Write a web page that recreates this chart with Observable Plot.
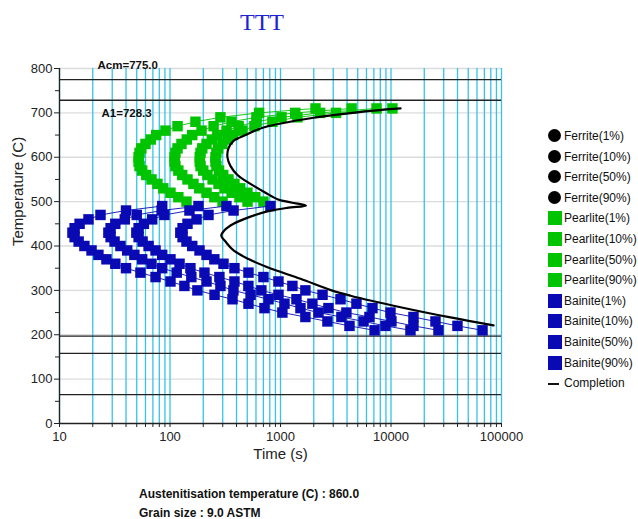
<!DOCTYPE html>
<html>
<head>
<meta charset="utf-8">
<script src="https://cdn.jsdelivr.net/npm/d3@7"></script>
<script src="https://cdn.jsdelivr.net/npm/@observablehq/plot@0.6"></script>
<style>
  body { margin: 0; background: #fff; }
  #wrap { position: relative; width: 638px; height: 519px; overflow: hidden; background: #fff; font-family: "Liberation Sans", Arial, sans-serif; }
  #wrap svg { position: absolute; left: 0; top: 0; }
  #title { position: absolute; left: 212px; width: 100px; top: 9px; text-align: center; font: 24px/26px "Liberation Serif", "Times New Roman", serif; color: #1c22d6; }
  #caption { position: absolute; left: 139px; top: 485px; font: bold 12px/19px "Liberation Sans", Arial, sans-serif; color: #111; white-space: nowrap; }
  .lg { position: absolute; left: 547px; height: 20px; white-space: nowrap; font: 12px/20px "Liberation Sans", Arial, sans-serif; color: #111; }
  .lg .sym { position: absolute; left: 1px; top: 3px; width: 14px; height: 14px; }
  .lg .txt { position: absolute; left: 17px; top: 0; }
</style>
</head>
<body>
<div id="wrap">
  <div id="title">TTT</div>
  <div id="caption">Austenitisation temperature (C) : 860.0<br>Grain size : 9.0 ASTM</div>
</div>
<script>
// ---------- data ----------
const pearliteTemps = [500,510,520,530,540,550,560,570,580,590,600,610,620,630,640,650,660,670,680,690,700,710];
const pearlite1  = [141,119,101,87,77,68,61,56,53,52,52,53,55,60,67,75,91,117,170,286,640,2075];
const pearlite10 = [299,252,214,184,163,144,129,119,112,110,110,112,117,127,142,159,193,248,360,606,1360,4400];
const pearlite50 = [503,425,361,311,275,243,218,200,189,186,186,189,196,214,239,268,325,418,607,1021,2285,7400];
const pearlite90 = [701,591,502,432,383,338,303,278,263,258,258,263,273,298,333,373,452,581,845,1421,3180,10300];

const bainiteTemps = [490,480,470,460,450,440,430,420,410,400,390,380,370,360,350,340,330,320,310,300,290,280,270,260,250,240,230,220,210];
const bainite1  = [85,40,23.5,18.3,15.2,13.7,13.1,13.7,14.9,16.8,19.5,22.5,26.6,32,40,54,74,101,135,177,253,368,513,716,1040,1680,2660,4210,7100];
const bainite10 = [181,84,50,39,32,29,27.7,29,31.5,35.6,41,47.6,56,68,85,115,156,214,286,375,536,779,1086,1516,2206,3560,5640,8910,15000];
const bainite50 = [324,150,89,69,58,52,49.6,52,56.5,64,74,85,101,122,153,205,280,383,512,671,959,1395,1944,2714,3950,6380,10090,15960,26900];
const bainite90 = [811,376,223,174,144,130,124,130,141,159,185,214,252,305,383,513,701,958,1281,1680,2401,3492,4868,6795,9889,15970,25270,39950,67340];

const completionTemps = [710,703,689,667,650,637,620,600,580,560,540,520,505,498,491,486,478,465,450,435,423,410,390,370,352,326,300,288,262,239,221];
const completionTimes = [12200,5640,1990,702,482,376,338,331,353,408,535,731,950,1250,1700,1150,760,520,376,310,291,318,376,520,762,1517,2900,4300,12200,34500,84700];

const criticalTemps  = [775.0, 728.3, 197, 158, 65];
const criticalLabels = ["Acm=775.0", "A1=728.3", "", "", ""];

const yTicks = [0,100,200,300,400,500,600,700,800];
const yMinor = [50,150,250,350,450,550,650,750];
const xDecades = [10,100,1000,10000,100000];
const xGrid = [10,20,30,40,50,60,70,80,90,100,200,300,400,500,600,700,800,900,1000,2000,3000,4000,5000,6000,7000,8000,9000,10000,20000,30000,40000,50000,60000,70000,80000,90000,100000];

const legendLabels = ["Ferrite(1%)","Ferrite(10%)","Ferrite(50%)","Ferrite(90%)","Pearlite(1%)","Pearlite(10%)","Pearlite(50%)","Pearlite(90%)","Bainite(1%)","Bainite(10%)","Bainite(50%)","Bainite(90%)","Completion"];
const legendKinds  = ["circle","circle","circle","circle","square","square","square","square","square","square","square","square","line"];

// ---------- styles ----------
const GREEN = "#00c400", BLUE = "#0a0ab4", CYAN = "#34c3ec";
const colorOf = {Ferrite: "#000", Pearlite: GREEN, Bainite: BLUE};

const toRows = (temps, times) => temps.map((T, i) => ({T, t: times[i]}));
const pearliteSeries = [pearlite1, pearlite10, pearlite50, pearlite90].map(s => toRows(pearliteTemps, s));
const bainiteSeries  = [bainite1, bainite10, bainite50, bainite90].map(s => toRows(bainiteTemps, s));
const completion = toRows(completionTemps, completionTimes);
const critical = criticalTemps.map((T, i) => ({T, label: criticalLabels[i]}));

const seriesMarks = (series, color) => series.flatMap(rows => [
  Plot.line(rows, {x: "t", y: "T", stroke: color, strokeWidth: 0.9}),
  Plot.dot(rows, {x: "t", y: "T", symbol: "square", r: 5.9, fill: color, stroke: "none"})
]);

const chart = Plot.plot({
  width: 638, height: 519,
  marginLeft: 59, marginRight: 137, marginTop: 68, marginBottom: 96,
  style: {fontFamily: "'Liberation Sans', Arial, sans-serif", fontSize: "13px", color: "#222", background: "transparent"},
  x: {type: "log", domain: [10, 100000]},
  y: {domain: [0, 800]},
  marks: [
    Plot.ruleY(yTicks.filter(d => d > 0), {stroke: "#dcdcdc", strokeWidth: 1.3}),
    Plot.ruleX(xGrid, {stroke: CYAN, strokeWidth: 1.3}),
    Plot.ruleY(critical, {y: "T", stroke: "#222", strokeWidth: 1.4}),
    Plot.text(critical.slice(0, 1), {y: "T", text: "label", frameAnchor: "left", dx: 38, dy: -14, textAnchor: "start", fontWeight: "bold", fontSize: 11.5, fill: "#111"}),
    Plot.text(critical.slice(1, 2), {y: "T", text: "label", frameAnchor: "left", dx: 42, dy: 13, textAnchor: "start", fontWeight: "bold", fontSize: 11.5, fill: "#111"}),
    ...seriesMarks(pearliteSeries, GREEN),
    ...seriesMarks(bainiteSeries, BLUE),
    Plot.line(completion, {x: "t", y: "T", stroke: "#000", strokeWidth: 2.2, curve: "catmull-rom"}),
    Plot.ruleX([10], {stroke: "#222", strokeWidth: 1.3}),
    Plot.ruleY([0], {stroke: "#222", strokeWidth: 1.3}),
    Plot.axisY({ticks: yTicks, tickSize: 5, tickPadding: 2, label: null, tickFormat: d => String(d)}),
    Plot.axisY({ticks: yMinor, tickSize: 4, label: null, tickFormat: () => ""}),
    Plot.axisX({ticks: xGrid, tickSize: 4, tickPadding: 4, label: null, tickFormat: d => xDecades.includes(d) ? String(d) : ""}),
    Plot.text(["Temperature (C)"], {frameAnchor: "left", dx: -41, rotate: -90, fontSize: 15, fill: "#222"}),
    Plot.text(["Time (s)"], {frameAnchor: "bottom", dy: 35, fontSize: 15, fill: "#222"})
  ]
});

const wrap = document.getElementById("wrap");
wrap.insertBefore(chart, wrap.firstChild);

// ---------- legend ----------
legendLabels.forEach((label, i) => {
  const row = document.createElement("div");
  row.className = "lg";
  row.style.top = (126 + 20.6 * i) + "px";
  const sym = document.createElement("div");
  sym.className = "sym";
  const kind = legendKinds[i];
  const color = colorOf[label.split("(")[0]] || "#000";
  if (kind === "circle") {
    sym.style.background = color; sym.style.borderRadius = "50%";
    sym.style.width = "13px"; sym.style.height = "13px";
  } else if (kind === "square") {
    sym.style.background = color;
  } else {
    sym.style.height = "1.5px"; sym.style.top = "10px"; sym.style.width = "11px";
    sym.style.background = "#111";
  }
  const txt = document.createElement("div");
  txt.className = "txt";
  txt.textContent = label;
  row.appendChild(sym);
  row.appendChild(txt);
  wrap.appendChild(row);
});
</script>
</body>
</html>
